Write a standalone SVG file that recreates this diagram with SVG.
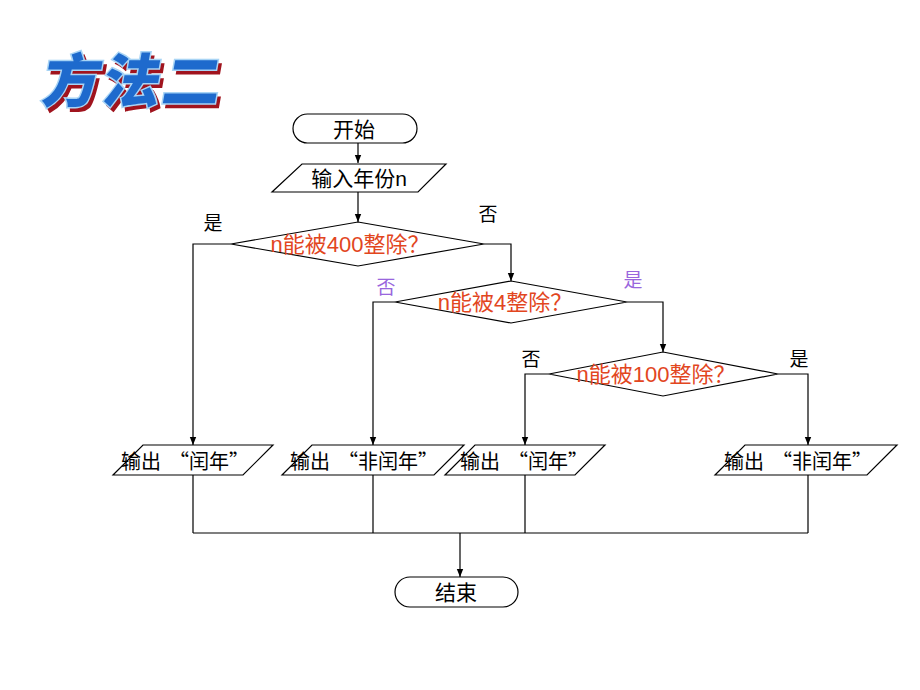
<svg xmlns="http://www.w3.org/2000/svg" width="920" height="690" viewBox="0 0 920 690">
<defs>
<marker id="arr" viewBox="0 0 10 10" refX="10" refY="5" markerWidth="8" markerHeight="8" markerUnits="userSpaceOnUse" orient="auto">
<path d="M0,1 L10,5 L0,9 Z" fill="#000"/>
</marker>
</defs>
<style>
.shape{fill:#fff;stroke:#000;stroke-width:1.2}
.ln{fill:none;stroke:#000;stroke-width:1.2}
.t{font-family:"Liberation Sans","Noto Sans CJK SC",sans-serif;font-size:21px;fill:#000;text-anchor:middle;dominant-baseline:central}
.o{font-family:"Noto Sans CJK SC",sans-serif;font-size:20px;fill:#000;text-anchor:start;dominant-baseline:central}
.q{font-family:"Liberation Sans","Noto Sans CJK SC",sans-serif;font-size:22px;fill:#E2461E;text-anchor:middle;dominant-baseline:central}
.lb{font-family:"Noto Sans CJK SC",sans-serif;font-size:19px;fill:#000;text-anchor:middle;dominant-baseline:central}
.lp{font-family:"Noto Sans CJK SC",sans-serif;font-size:19px;fill:#9966DD;text-anchor:middle;dominant-baseline:central}
.title{font-family:"Noto Sans CJK SC",sans-serif;font-size:58px;font-weight:900;letter-spacing:2px}
</style>
<rect width="920" height="690" fill="#fff"/>
<g id="title" transform="translate(40,102) skewX(-10)">
<text class="title" x="4" y="4" fill="#A0141E" stroke="#A0141E" stroke-width="2">方法二</text>
<text class="title" x="0" y="0" fill="#1E6ACD" stroke="#A8D4F5" stroke-width="3" paint-order="stroke">方法二</text>
</g>
<g id="connectors">
<path class="ln" d="M358,143 V163" marker-end="url(#arr)"/>
<path class="ln" d="M358,192 V222" marker-end="url(#arr)"/>
<path class="ln" d="M231,244 H193 V445" marker-end="url(#arr)"/>
<path class="ln" d="M484,244 H511 V281" marker-end="url(#arr)"/>
<path class="ln" d="M395,302 H373 V445" marker-end="url(#arr)"/>
<path class="ln" d="M627,302 H663 V352" marker-end="url(#arr)"/>
<path class="ln" d="M549,374 H525 V445" marker-end="url(#arr)"/>
<path class="ln" d="M778,374 H808 V445" marker-end="url(#arr)"/>
<path class="ln" d="M193,475 V533 M373,475 V533 M525,475 V533 M808,475 V533 M193,533 H808"/>
<path class="ln" d="M460,533 V577" marker-end="url(#arr)"/>
<text class="lb" x="213" y="221">是</text>
<text class="lb" x="488" y="212">否</text>
<text class="lp" x="386" y="285">否</text>
<text class="lp" x="633" y="278">是</text>
<text class="lb" x="531" y="357">否</text>
<text class="lb" x="799" y="357">是</text>
</g>
<g id="start">
<rect class="shape" x="293" y="114" width="124" height="29" rx="14.5"/>
<text class="t" x="354" y="129">开始</text>
</g>
<g id="input">
<polygon class="shape" points="302,164 446,164 418,192 272,192"/>
<text class="t" x="359" y="178">输入年份n</text>
</g>
<g id="d400">
<polygon class="shape" points="358,222 484,244 358,266 231,244"/>
<text class="q" x="350" y="244">n能被400整除？</text>
</g>
<g id="d4">
<polygon class="shape" points="511,281 627,302 511,323 395,302"/>
<text class="q" x="505" y="302">n能被4整除？</text>
</g>
<g id="d100">
<polygon class="shape" points="663,352 778,374 663,396 549,374"/>
<text class="q" x="656" y="374">n能被100整除？</text>
</g>
<g id="out1">
<polygon class="shape" points="143,445 273,445 243,475 113,475"/>
<text class="o" x="121" y="460">输出<tspan dx="8">“</tspan>闰年”</text>
</g>
<g id="out2">
<polygon class="shape" points="312,445 464,445 434,475 282,475"/>
<text class="o" x="290" y="460">输出<tspan dx="8">“</tspan>非闰年”</text>
</g>
<g id="out3">
<polygon class="shape" points="475,445 605,445 575,475 445,475"/>
<text class="o" x="460" y="460">输出<tspan dx="8">“</tspan>闰年”</text>
</g>
<g id="out4">
<polygon class="shape" points="745,445 897,445 867,475 715,475"/>
<text class="o" x="724" y="460">输出<tspan dx="8">“</tspan>非闰年”</text>
</g>
<g id="end">
<rect class="shape" x="395" y="577" width="123" height="30" rx="15"/>
<text class="t" x="456" y="592">结束</text>
</g>
</svg>
